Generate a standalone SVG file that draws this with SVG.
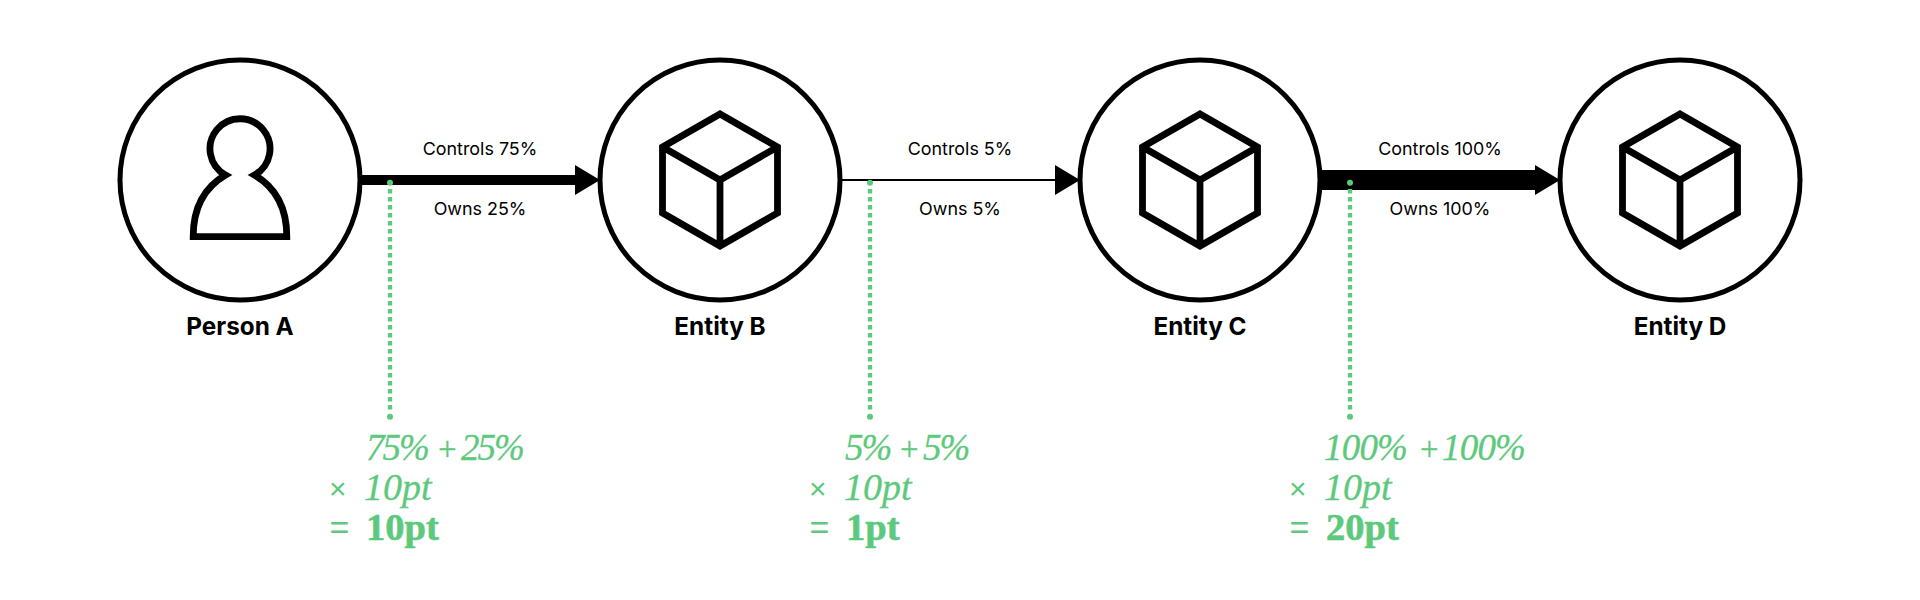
<svg xmlns="http://www.w3.org/2000/svg" width="1920" height="600" viewBox="0 0 1920 600">
<defs>
<style>
.ring{fill:#fff;stroke:#000;stroke-width:5}
.icon{fill:none;stroke:#000;stroke-width:6.8;stroke-miterlimit:10}
.name{font:700 24.3px "Inter","Liberation Sans",sans-serif;text-anchor:middle;fill:#000}
.lab{font:400 17.9px "Inter","Liberation Sans",sans-serif;text-anchor:middle;fill:#000}
.calc{font:italic 400 38px "Liberation Serif",serif;fill:#5DC97C;stroke:#5DC97C;stroke-width:.3}
.pct{font-size:37px;letter-spacing:-2px}
.wide{letter-spacing:-.8px}
.plus{font:normal 400 33px "Liberation Serif",serif;letter-spacing:0}
.res{font:700 38.5px "Liberation Serif",serif;fill:#5DC97C;stroke:#5DC97C;stroke-width:.6}
.times{font:400 30px "Liberation Sans",sans-serif;fill:#5DC97C}
.eq{font:400 34px "Liberation Sans",sans-serif;fill:#5DC97C}
.dash{stroke:#5DC97C;stroke-width:4.4;stroke-dasharray:4.6 3.4;fill:none}
.dot{fill:#5DC97C}
</style>
<g id="cube"><path class="icon" d="M0-66 57.5-33V33L0 66-57.5 33V-33ZM-57.5-33 0 0 57.5-33M0 0V66"/></g>
</defs>
<g id="connectors">
<path d="M362 175H575V165L600 180 575 195V185H362Z"/>
<path d="M842 179H1055V165L1080 180 1055 195V181H842Z"/>
<path d="M1322 170H1535V165L1560 180 1535 195V190H1322Z"/>
<g id="callout-lines">
<path class="dash" d="M390 189V412"/><circle class="dot" cx="390" cy="182.7" r="3"/><circle class="dot" cx="390" cy="416.7" r="3"/>
<path class="dash" d="M870 189V412"/><circle class="dot" cx="870" cy="182.7" r="3"/><circle class="dot" cx="870" cy="416.7" r="3"/>
<path class="dash" d="M1350 189V412"/><circle class="dot" cx="1350" cy="182.7" r="3"/><circle class="dot" cx="1350" cy="416.7" r="3"/>
</g>
</g>
<g id="person-a"><circle class="ring" cx="240" cy="180" r="120"/>
<path class="icon" d="M225.5 175A30 30 0 1 1 254.5 175C275 187 286.8 208 286.8 236.6H193.2C193.2 208 205 187 225.5 175Z"/>
<text class="name" x="240" y="335">Person A</text></g>
<g id="entity-b"><circle class="ring" cx="720" cy="180" r="120"/><use href="#cube" x="720" y="180"/><text class="name" x="720" y="335">Entity B</text></g>
<g id="entity-c"><circle class="ring" cx="1200" cy="180" r="120"/><use href="#cube" x="1200" y="180"/><text class="name" x="1200" y="335">Entity C</text></g>
<g id="entity-d"><circle class="ring" cx="1680" cy="180" r="120"/><use href="#cube" x="1680" y="180"/><text class="name" x="1680" y="335">Entity D</text></g>
<g id="labels">
<text class="lab" x="480" y="155">Controls 75%</text><text class="lab" x="480" y="215">Owns 25%</text>
<text class="lab" x="960" y="155">Controls 5%</text><text class="lab" x="960" y="215">Owns 5%</text>
<text class="lab" x="1440" y="155">Controls 100%</text><text class="lab" x="1440" y="215">Owns 100%</text>
</g>
<g id="calc-a"><text class="calc" y="460"><tspan class="pct" x="366">75%</tspan> <tspan class="plus" x="438">+</tspan> <tspan class="pct" x="461">25%</tspan></text><text class="times" x="329" y="499">×</text><text class="calc" x="364" y="500">10pt</text><text class="eq" x="329.5" y="538.5">=</text><text class="res" x="366" y="539.5">10pt</text></g>
<g id="calc-b"><text class="calc" y="460"><tspan class="pct" x="845">5%</tspan> <tspan class="plus" x="900">+</tspan> <tspan class="pct" x="923">5%</tspan></text><text class="times" x="809" y="499">×</text><text class="calc" x="844" y="500">10pt</text><text class="eq" x="809.5" y="538.5">=</text><text class="res" x="846" y="539.5">1pt</text></g>
<g id="calc-c"><text class="calc" y="460"><tspan class="pct wide" x="1324">100%</tspan> <tspan class="plus" x="1420">+</tspan> <tspan class="pct wide" x="1442">100%</tspan></text><text class="times" x="1289" y="499">×</text><text class="calc" x="1324" y="500">10pt</text><text class="eq" x="1289.5" y="538.5">=</text><text class="res" x="1326" y="539.5">20pt</text></g>
</svg>
